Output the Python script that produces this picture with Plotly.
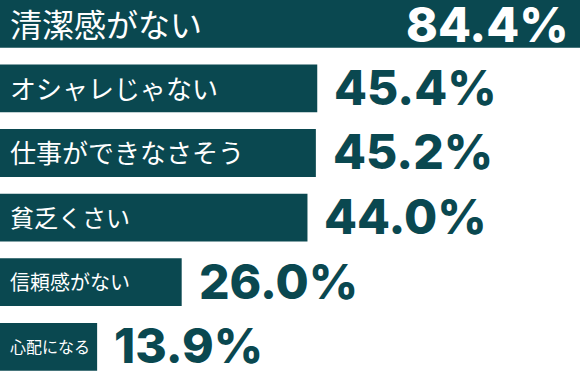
import plotly.graph_objects as go

# ---- data ----
categories = ["清潔感がない", "オシャレじゃない", "仕事ができなさそう", "貧乏くさい", "信頼感がない", "心配になる"]
values = [84.4, 45.4, 45.2, 44.0, 26.0, 13.9]
value_labels = ["84.4%", "45.4%", "45.2%", "44.0%", "26.0%", "13.9%"]

# ---- style ----
BAR_COLOR = "#0a4850"
LABEL_FONT_PX = [32, 26, 26, 24, 20, 16]
VALUE_FONT_PX = 48
VALUE_FONT = "Inter"
W, H = 580, 382
X_MAX = 83.0

fig = go.Figure()
fig.add_trace(go.Bar(
    x=values, y=categories, orientation="h",
    marker=dict(color=BAR_COLOR, line=dict(width=0)),
    hoverinfo="skip",
))

annotations = []
for i, (cat, v, vl) in enumerate(zip(categories, values, value_labels)):
    annotations.append(dict(
        x=0, y=cat, xref="x", yref="y", text=cat, showarrow=False,
        xanchor="left", yanchor="middle", xshift=8, yshift=1,
        font=dict(family="Noto Sans CJK JP", size=LABEL_FONT_PX[i], color="white"),
    ))
    if v >= X_MAX:
        annotations.append(dict(
            x=0.985, xref="paper", y=cat, yref="y", text=vl, showarrow=False,
            xanchor="right", yanchor="middle", yshift=-1,
            font=dict(family=VALUE_FONT, size=VALUE_FONT_PX, color="white", weight=800),
        ))
    else:
        annotations.append(dict(
            x=v, xref="x", y=cat, yref="y", text=vl, showarrow=False,
            xanchor="left", yanchor="middle", xshift=15, yshift=1,
            font=dict(family=VALUE_FONT, size=VALUE_FONT_PX, color=BAR_COLOR, weight=800),
        ))

fig.update_layout(
    width=W, height=H,
    margin=dict(l=0, r=0, t=0, b=0),
    paper_bgcolor="white", plot_bgcolor="white",
    bargap=0.26,
    showlegend=False,
    xaxis=dict(range=[0, X_MAX], visible=False, fixedrange=True),
    yaxis=dict(type="category", categoryorder="array", categoryarray=categories,
               range=[5.545, -0.368], visible=False, fixedrange=True),
    annotations=annotations,
)

fig.write_html("out.html", config={"displayModeBar": False},
               post_script="document.body.style.margin='0';document.body.style.overflow='hidden';")
